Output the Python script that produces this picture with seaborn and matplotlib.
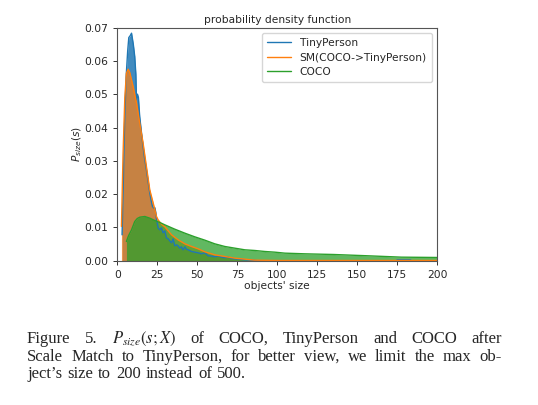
import matplotlib
matplotlib.use('Agg')
import matplotlib.pyplot as plt
import seaborn as sns

# TinyPerson density
tiny_x = [3, 3.6, 4.5, 5.5, 6.5, 7.2, 8, 8.9, 10, 10.9, 11.6, 12, 12.6, 13.2, 14, 15,
          16.1, 17, 18.2, 19.2, 20.3, 21.2, 22, 22.8, 23.4, 24, 24.5, 25, 25.5, 26.6,
          27.6, 28.6, 29.7, 30.7, 31.8, 32.8, 33.9, 34.9, 35.9, 37, 38, 39, 40.1, 41.1,
          42.2, 43.2, 44.3, 46.4, 48.4, 50.5, 52.6, 54.7, 56.8, 58.9, 60.9, 63, 65.1,
          67.2, 69.3, 71.4, 75.5, 79.7, 83.9, 88, 174, 175, 183, 184, 200]
tiny_y = [0.0078, 0.020, 0.040, 0.055, 0.063, 0.067, 0.0675, 0.0683, 0.065, 0.0613,
          0.056, 0.0483, 0.050, 0.049, 0.0433, 0.039, 0.0343, 0.031, 0.0273, 0.024,
          0.0204, 0.018, 0.0163, 0.0158, 0.016, 0.0147, 0.0123, 0.0114, 0.0099, 0.0093,
          0.0099, 0.0084, 0.009, 0.0069, 0.0066, 0.006, 0.0054, 0.0066, 0.0045, 0.0048,
          0.0045, 0.0038, 0.0042, 0.0033, 0.0042, 0.0035, 0.0033, 0.0028, 0.0026, 0.0024,
          0.0021, 0.0024, 0.0015, 0.0014, 0.0012, 0.0015, 0.0011, 0.0009, 0.0011, 0.0007,
          0.0005, 0.0003, 0.0002, 0.0, 0.0, 0.0003, 0.0003, 0.0, 0.0]

# COCO after scale match
sm_x = [2.6, 3.6, 4.7, 5.7, 6.8, 7.8, 9.9, 12, 14, 16.1, 18.2, 20.3, 22.4, 24.5, 25.5,
        27.6, 29.7, 33.9, 38, 42.2, 46.4, 50.5, 54.7, 60.9, 67.2, 73.4, 79.7, 85.9,
        100, 150, 200]
sm_y = [0.0103, 0.032, 0.049, 0.0563, 0.0575, 0.0565, 0.0523, 0.0474, 0.0414, 0.0354,
        0.0283, 0.0213, 0.0174, 0.0133, 0.0123, 0.011, 0.0102, 0.0078, 0.0063, 0.0051,
        0.0043, 0.0036, 0.0027, 0.0018, 0.0013, 0.0008, 0.0005, 0.0002, 0.0001, 0.0001,
        0.0001]

# COCO
coco_x = [5.7, 7, 8.9, 10.9, 12.5, 14.1, 17.2, 20.3, 23.4, 26.6, 29.7, 35.9, 42.2, 48.4,
          54.7, 60.9, 67.2, 73.4, 79.7, 85.9, 92.2, 98.4, 104.7, 117.2, 135, 157, 177.5, 200]
coco_y = [0.0058, 0.0075, 0.0093, 0.0118, 0.0127, 0.0131, 0.0133, 0.0128, 0.0121, 0.0115,
          0.0108, 0.0095, 0.0083, 0.0072, 0.0062, 0.0051, 0.0043, 0.0038, 0.0033, 0.0031,
          0.0028, 0.0026, 0.0023, 0.0021, 0.0019, 0.0015, 0.0011, 0.001]

labels = ['TinyPerson', 'SM(COCO->TinyPerson)', 'COCO']
colors = ['#1f77b4', '#ff7f0e', '#2ca02c']
fill_alpha = [0.85, 0.7, 0.75]

sns.set_style('ticks')
plt.rcParams['font.family'] = ['DejaVu Sans']
plt.rcParams['mathtext.fontset'] = 'dejavusans'

fig = plt.figure(figsize=(5.38, 4.05), dpi=100)
ax = fig.add_axes([0.218, 0.356, 0.595, 0.576])

series = [(tiny_x, tiny_y), (sm_x, sm_y), (coco_x, coco_y)]
for (xs, ys), lab, c, a in zip(series, labels, colors, fill_alpha):
    ax.fill_between(xs, ys, color=c, alpha=a, lw=0)
    sns.lineplot(x=xs, y=ys, color=c, lw=1.0, label=lab, ax=ax, estimator=None)

ax.set_xlim(0, 200)
ax.set_ylim(0, 0.07)
ax.set_xticks([0, 25, 50, 75, 100, 125, 150, 175, 200])
ax.set_yticks([0, 0.01, 0.02, 0.03, 0.04, 0.05, 0.06, 0.07])
ax.set_yticklabels([f'{v:.2f}' for v in ax.get_yticks()])
ax.tick_params(labelsize=7.7, length=3, width=0.7, color='#333333')
for s in ax.spines.values():
    s.set_linewidth(0.8)
    s.set_color('#555555')
ax.set_title('probability density function', fontsize=7.7, pad=3)
ax.set_xlabel("objects' size", fontsize=7.7, labelpad=1)
ax.set_ylabel('$P_{size}(s)$', fontsize=7.7, labelpad=0)
leg = ax.legend(loc='upper right', fontsize=7.7, frameon=True, handlelength=2.2,
                borderpad=0.5, labelspacing=0.4)
for h in leg.get_lines():
    h.set_linewidth(1.0)

# caption (justified lines)
cap_lines = [
    ['Figure', '5.', '$P_{size}(s;X)$', 'of', 'COCO,', 'TinyPerson', 'and', 'COCO', 'after'],
    ['Scale', 'Match', 'to', 'TinyPerson,', 'for', 'better', 'view,', 'we', 'limit', 'the', 'max', 'ob-'],
    ['ject\u2019s', 'size', 'to', '200', 'instead', 'of', '500.'],
]
cap_fs = 12.0
left_px, right_px = 27, 502
baselines_px = [343, 361, 378]
W, H = 538, 405
renderer = fig.canvas.get_renderer()
for li, words in enumerate(cap_lines):
    y = 1 - baselines_px[li] / H
    texts = []
    for w in words:
        kw = dict(fontsize=cap_fs, family=['Liberation Serif', 'DejaVu Serif'],
                  va='baseline', ha='left')
        if w.startswith('$'):
            kw['math_fontfamily'] = 'stix'
        texts.append(fig.text(0, y, w, **kw))
    widths = [t.get_window_extent(renderer).width for t in texts]
    if li < 2:
        gap = (right_px - left_px - sum(widths)) / (len(words) - 1)
    else:
        gap = cap_fs * 1.389 * 0.3
    xpos = left_px
    for t, wd in zip(texts, widths):
        t.set_x(xpos / W)
        xpos += wd + gap

fig.savefig('out.png', dpi=100)
